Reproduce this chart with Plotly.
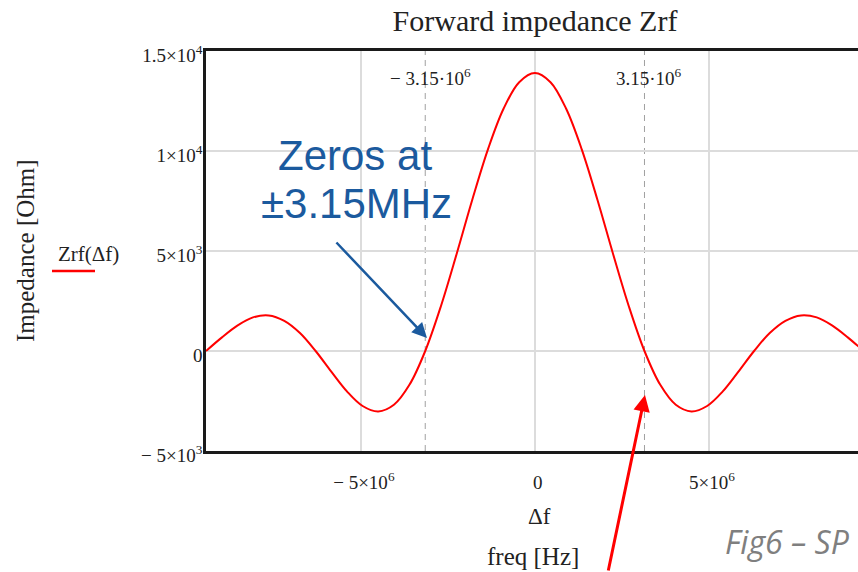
import plotly.graph_objects as go

# ---- data ----
freq_mhz = [-9.45, -9.0, -8.55, -8.1, -7.65, -7.2, -6.75, -6.3, -5.85, -5.4, -4.95,
            -4.5, -4.05, -3.6, -3.15, -2.7, -2.25, -1.8, -1.35, -0.9, -0.45, 0.0,
            0.45, 0.9, 1.35, 1.8, 2.25, 2.7, 3.15, 3.6, 4.05, 4.5, 4.95, 5.4,
            5.85, 6.3, 6.75, 7.2, 7.65, 8.1, 8.55, 9.0, 9.45]
zrf_ohm = [0, 670, 1270, 1680, 1780, 1510, 900, 0, -1030, -2020, -2750,
           -3020, -2690, -1680, 0, 2240, 4840, 7550, 10070, 12110, 13440, 13900,
           13440, 12110, 10070, 7550, 4840, 2240, 0, -1680, -2690, -3020, -2750, -2020,
           -1030, 0, 900, 1510, 1780, 1680, 1270, 670, 0]
zero_marks_hz = [-3.15e6, 3.15e6]
zero_labels = ["\u2212 3.15\u00b710<sup>6</sup>", "3.15\u00b710<sup>6</sup>"]
x_tickvals = [-5e6, 0, 5e6]
x_ticktext = ["\u2212 5\u00d710<sup>6</sup>", "0", "5\u00d710<sup>6</sup>"]
y_tickvals = [-5000, 0, 5000, 10000, 15000]
y_ticktext = ["\u2212 5\u00d710<sup>3</sup>", "0", "5\u00d710<sup>3</sup>",
              "1\u00d710<sup>4</sup>", "1.5\u00d710<sup>4</sup>"]

freq_hz = [f * 1e6 for f in freq_mhz]

SERIF = "Liberation Serif, Times New Roman, serif"
TXT = "#222222"
BLUE = "#1B5A9E"

fig = go.Figure()
fig.add_trace(go.Scatter(x=freq_hz, y=zrf_ohm, mode="lines",
                         line=dict(color="#ff0000", width=2, shape="spline", smoothing=1.0),
                         showlegend=False, hoverinfo="skip"))

for xv in zero_marks_hz:
    fig.add_shape(type="line", xref="x", yref="paper", x0=xv, x1=xv, y0=0, y1=1,
                  line=dict(color="#a0a0a0", width=1, dash="6px,5px"), layer="below")

for xv, lab in zip(zero_marks_hz, zero_labels):
    fig.add_annotation(x=xv, y=(451 - 77) / 400, xref="x", yref="paper", text=lab,
                       showarrow=False, xanchor="center", yanchor="middle",
                       xshift=5, font=dict(family=SERIF, size=19, color=TXT))

fig.update_layout(
    width=858, height=572,
    margin=dict(l=206, r=0, t=51, b=121),
    paper_bgcolor="white", plot_bgcolor="white",
    title=dict(text="Forward impedance Zrf", x=535 / 858, xref="container", xanchor="center",
               y=1 - 20 / 572, yref="container", yanchor="middle",
               font=dict(family=SERIF, size=30, color=TXT)),
    xaxis=dict(range=[-9.45e6, 9.286e6], tickvals=x_tickvals, ticktext=x_ticktext,
               showgrid=True, gridcolor="#dcdcdc", gridwidth=1.5, zeroline=False,
               showline=True, linecolor="#1a1a1a", linewidth=2.5, mirror=True,
               ticks="", ticklabelstandoff=12, ticklabelshift=3,
               tickfont=dict(family=SERIF, size=19, color=TXT)),
    yaxis=dict(range=[-5000, 15000], tickvals=y_tickvals, ticktext=y_ticktext,
               showgrid=True, gridcolor="#dcdcdc", gridwidth=1.5, zeroline=False,
               showline=True, linecolor="#1a1a1a", linewidth=2.5,
               ticks="", ticklabelstandoff=-3, ticklabelshift=4,
               tickfont=dict(family=SERIF, size=19, color=TXT)),
)

# axis titles and trace label
fig.add_annotation(x=25, y=251, text="Impedance [Ohm]", showarrow=False, textangle=-90,
                   font=dict(family=SERIF, size=25, color=TXT))
fig.add_annotation(x=88, y=254, text="Zrf(\u0394f)", showarrow=False,
                   font=dict(family=SERIF, size=21, color=TXT))
fig.add_annotation(x=539, y=516, text="\u0394f", showarrow=False,
                   font=dict(family=SERIF, size=23, color=TXT))
fig.add_annotation(x=533, y=556, text="freq [Hz]", showarrow=False,
                   font=dict(family=SERIF, size=25, color=TXT))

# callouts
SANS = "Liberation Sans, Arial, sans-serif"
fig.add_annotation(x=355, y=155, text="Zeros at", showarrow=False,
                   font=dict(family=SANS, size=42, color=BLUE))
fig.add_annotation(x=356, y=204, text="\u00b13.15MHz", showarrow=False,
                   font=dict(family=SANS, size=42, color=BLUE))
fig.add_annotation(x=427, y=338, ax=335, ay=241, text="", showarrow=True, arrowhead=2,
                   arrowsize=1.2, arrowwidth=2.5, arrowcolor=BLUE)
fig.add_annotation(x=723, y=541, text="<i>Fig6 \u2013 SP</i>", showarrow=False, xanchor="left",
                   font=dict(family="Open Sans, Liberation Sans, sans-serif", size=32, color="#7f7f7f"))
fig.add_annotation(x=645, y=395, ax=608, ay=585, text="", showarrow=True, arrowhead=2,
                   arrowsize=1.1, arrowwidth=3, arrowcolor="#ff0000")

# convert pixel-positioned annotations into paper coordinates
W, H, L, T, B = 858, 572, 206, 51, 121
pw, ph = W - L, H - T - B
new_anns = []
for a in fig.layout.annotations:
    if a.xref == "x":
        new_anns.append(a)
        continue
    px, py = a.x, a.y
    a.update(xref="paper", yref="paper", x=(px - L) / pw, y=(H - B - py) / ph, yanchor="middle")
    if a.xanchor is None:
        a.update(xanchor="center")
    if a.showarrow:
        a.update(ax=a.ax - px, ay=a.ay - py, axref="pixel", ayref="pixel")
    new_anns.append(a)
fig.layout.annotations = new_anns

# trace label underline
fig.add_shape(type="line", xref="paper", yref="paper",
              x0=(52 - L) / pw, x1=(95 - L) / pw, y0=(H - B - 271) / ph, y1=(H - B - 271) / ph,
              line=dict(color="#ff0000", width=2.5))

fig.write_html("out.html", config={"displayModeBar": False},
               post_script="document.body.style.margin='0';")
